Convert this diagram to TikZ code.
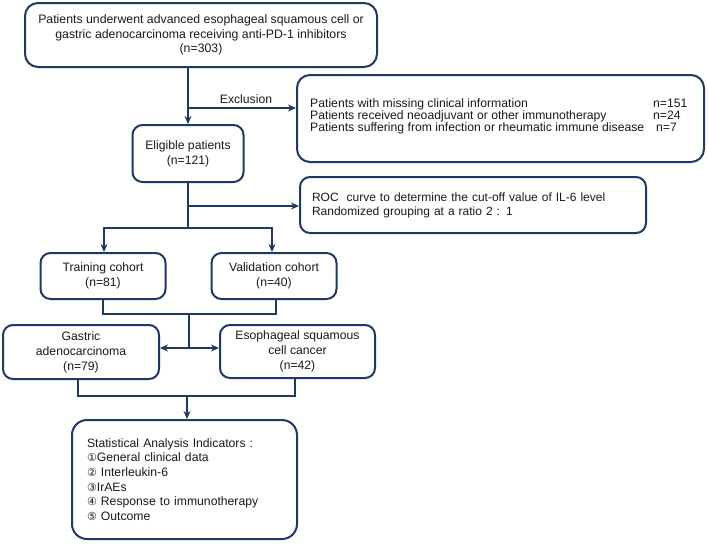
\documentclass[tikz,border=0pt]{standalone}
\usepackage{fontspec}
\setmainfont{Liberation Sans}
\newfontfamily\symfont{DejaVu Sans}
\usetikzlibrary{arrows.meta}
\definecolor{navy}{HTML}{1F3864}
\definecolor{txt}{HTML}{1A1A1A}
\begin{document}
\begin{tikzpicture}[x=1pt,y=-1pt,
  box/.style={draw=navy, line width=2pt, rounded corners=10pt, inner sep=0pt, align=center,
    font=\fontsize{12.2}{15}\selectfont, text=txt},
  bigbox/.style={box, rounded corners=13pt},
  conn/.style={draw=navy, line width=2pt},
  arr/.style={conn, -{Stealth[length=8pt,width=7pt]}},
  lbl/.style={font=\fontsize{12.2}{14}\selectfont, text=txt, inner sep=0pt}]
\useasboundingbox (0,0) rectangle (708,544);
\fill[white] (0,0) rectangle (708,544);

\node[bigbox, minimum width=352pt, minimum height=64pt, font=\fontsize{12.3}{14.3}\selectfont] (top) at (201,35)
  {Patients underwent advanced esophageal squamous cell or\\gastric adenocarcinoma receiving anti-PD-1 inhibitors\\(n=303)};
\node[bigbox, minimum width=407pt, minimum height=87pt] (excl) at (500.5,118.5) {};
\node[lbl, align=left, font=\fontsize{12.2}{11.8}\selectfont, anchor=west] (excltext) at (310,116.5)
  {\makebox[343pt][l]{Patients with missing clinical information}n=151\\
   \makebox[343pt][l]{Patients received neoadjuvant or other immunotherapy}n=24\\
   \makebox[343pt][l]{Patients suffering from infection or rheumatic immune disease}\hspace{3pt}n=7};
\node[box, minimum width=111pt, minimum height=57pt] (elig) at (188,153.5) {Eligible patients\\(n=121)};
\node[box, minimum width=346pt, minimum height=56pt, text width=322pt, align=left,
  font=\fontsize{12}{14}\selectfont] (roc) at (473,205)
  {ROC\ \ curve to determine the cut-off value of IL-6 level\\Randomized grouping at a ratio 2 : 1};
\node[box, minimum width=125pt, minimum height=46pt] (train) at (103,276) {Training cohort\\(n=81)};
\node[box, minimum width=125pt, minimum height=46pt] (valid) at (274,276) {Validation cohort\\(n=40)};
\node[box, minimum width=156pt, minimum height=54pt] (gast) at (81,352) {Gastric\\adenocarcinoma\\(n=79)};
\node[box, minimum width=155pt, minimum height=53pt] (eso) at (297.5,351.5) {Esophageal squamous\\cell cancer\\(n=42)};
\node[bigbox, minimum width=225pt, minimum height=119pt, text width=195pt, align=left, rounded corners=15pt,
  font=\fontsize{12.2}{14.6}\selectfont] (stats) at (184.5,479.5)
  {Statistical Analysis Indicators :\\
   {\symfont\fontsize{11}{14.6}\selectfont ①}General clinical data\\
   {\symfont\fontsize{11}{14.6}\selectfont ②} Interleukin-6\\
   {\symfont\fontsize{11}{14.6}\selectfont ③}IrAEs\\
   {\symfont\fontsize{11}{14.6}\selectfont ④} Response to immunotherapy\\
   {\symfont\fontsize{11}{14.6}\selectfont ⑤} Outcome};

% connectors
\draw[arr] (top.south -| elig.north) -- (elig.north);
\coordinate (j1) at (188,108);
\draw[arr] (j1) -- (j1 -| excl.west);
\node[lbl] (exlab) at (246,99) {Exclusion};
\coordinate (j2) at (188,206);
\draw[arr] (j2) -- (j2 -| roc.west);
\coordinate (j3) at (188,228);
\draw[conn] (elig.south) -- (j3);
\draw[arr] (j3) -| ([xshift=1pt]train.north);
\draw[arr] (j3) -| ([xshift=-2pt]valid.north);
\coordinate (m1) at (189,314);
\coordinate (m2) at (189,348);
\draw[conn] (train.south) |- (m1) -| ([xshift=2pt]valid.south);
\draw[conn] (m1) -- (m2);
\draw[arr] (m2) -- (m2 -| gast.east);
\draw[arr] (m2) -- (m2 -| eso.west);
\coordinate (m3) at (187,396);
\draw[conn] ([xshift=-3pt]gast.south) |- (m3) -| ([xshift=-2.5pt]eso.south);
\draw[arr] (m3) -- (m3 |- stats.north);
\end{tikzpicture}
\end{document}
